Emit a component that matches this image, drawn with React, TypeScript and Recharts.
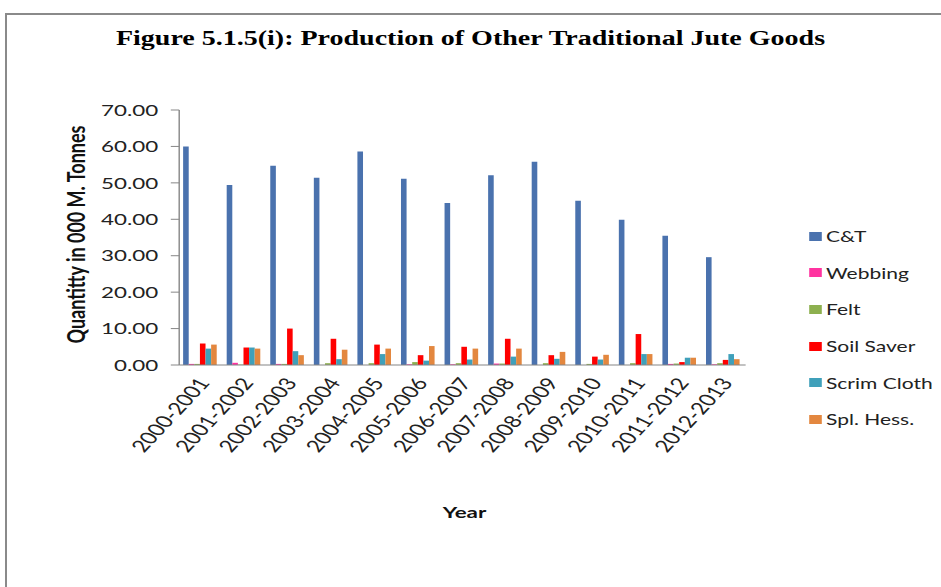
import { BarChart, Bar, XAxis, YAxis, Legend, Label } from "recharts";

const years: string[] = [
  "2000-2001", "2001-2002", "2002-2003", "2003-2004", "2004-2005", "2005-2006", "2006-2007",
  "2007-2008", "2008-2009", "2009-2010", "2010-2011", "2011-2012", "2012-2013",
];

// Quantity in '000 M. tonnes
const cAndT: number[] = [60.0, 49.4, 54.7, 51.4, 58.6, 51.1, 44.5, 52.1, 55.8, 45.1, 39.9, 35.5, 29.6];
const webbing: number[] = [0.3, 0.6, 0.3, 0.0, 0.0, 0.2, 0.2, 0.4, 0.0, 0.0, 0.0, 0.3, 0.2];
const felt: number[] = [0.3, 0.1, 0.3, 0.5, 0.5, 0.8, 0.5, 0.4, 0.5, 0.3, 0.5, 0.4, 0.5];
const soilSaver: number[] = [5.9, 4.8, 10.0, 7.2, 5.6, 2.7, 5.0, 7.2, 2.7, 2.3, 8.5, 0.8, 1.4];
const scrimCloth: number[] = [4.5, 4.8, 3.8, 1.6, 3.0, 1.2, 1.5, 2.3, 1.7, 1.5, 3.0, 2.0, 3.0];
const splHess: number[] = [5.6, 4.5, 2.7, 4.2, 4.5, 5.2, 4.5, 4.5, 3.6, 2.8, 3.0, 2.0, 1.6];

const yTicks: number[] = [0, 10, 20, 30, 40, 50, 60, 70];

const series = [
  { key: "ct", name: "C&T", color: "#4A72AE" },
  { key: "webbing", name: "Webbing", color: "#FF33A0" },
  { key: "felt", name: "Felt", color: "#8DB04F" },
  { key: "soil", name: "Soil Saver", color: "#FF0000" },
  { key: "scrim", name: "Scrim Cloth", color: "#3FA0BA" },
  { key: "hess", name: "Spl. Hess.", color: "#E3873F" },
];

const data = years.map((year, i) => ({
  year,
  ct: cAndT[i],
  webbing: webbing[i],
  felt: felt[i],
  soil: soilSaver[i],
  scrim: scrimCloth[i],
  hess: splHess[i],
}));

// the figure is laid out narrow and then widened to the page
const STRETCH = 1.4;
const W = 941 / STRETCH;
const H = 587;
const SANS = "Lato, 'Open Sans', sans-serif";
const AXIS = "#868686";
const FRAME = "#8a8a8a";

const YearTick = ({ x, y, payload }: any) => (
  <g transform={`translate(${x},${y})`}>
    <text
      x={7}
      y={18}
      textAnchor="end"
      transform="rotate(-56 7 18)"
      style={{ fontFamily: SANS, fontSize: 17, fill: "#222" }}
    >
      {payload.value}
    </text>
  </g>
);

const QuantityLabel = ({ viewBox }: any) => {
  const cx = viewBox.x + 16;
  const cy = viewBox.y + viewBox.height / 2 - 3;
  return (
    <text
      x={cx}
      y={cy}
      transform={`rotate(-90 ${cx} ${cy})`}
      textAnchor="middle"
      dominantBaseline="central"
      style={{ fontFamily: SANS, fontWeight: 700, fontSize: 18, fill: "#111" }}
    >
      Quantitty in 000 M. Tonnes
    </text>
  );
};

const YearLabel = ({ viewBox }: any) => (
  <text
    x={viewBox.x + viewBox.width / 2 + 1.5}
    y={viewBox.y + 147}
    textAnchor="middle"
    dominantBaseline="central"
    style={{ fontFamily: SANS, fontWeight: 700, fontSize: 16, fill: "#111" }}
  >
    Year
  </text>
);

// legend keeps the series order instead of sorting by name
const LegendList = () => (
  <div>
    {series.map((s) => (
      <div key={s.key} style={{ display: "flex", alignItems: "center", height: 36.6 }}>
        <span style={{ width: 9, height: 9, background: s.color, marginRight: 3, flex: "none" }} />
        <span style={{ fontFamily: SANS, fontSize: 15, color: "#222", whiteSpace: "nowrap" }}>{s.name}</span>
      </div>
    ))}
  </div>
);

export default function App() {
  return (
    <div style={{ position: "fixed", left: 0, top: 0, width: 941, height: H, overflow: "hidden", background: "#fff" }}>
      <div
        style={{
          position: "absolute",
          left: 0,
          top: 0,
          width: W,
          height: H,
          transform: `scaleX(${STRETCH})`,
          transformOrigin: "0 0",
        }}
      >
        <div
          style={{
            position: "absolute",
            top: 26,
            left: 0,
            width: W,
            textAlign: "center",
            fontFamily: "'Liberation Serif', 'Times New Roman', serif",
            fontWeight: 700,
            fontSize: 20,
            lineHeight: "24px",
            color: "#000",
            zIndex: 1,
          }}
        >
          Figure 5.1.5(i): Production of Other Traditional Jute Goods
        </div>
        <BarChart
          width={W}
          height={H}
          data={data}
          margin={{ top: 110, right: W - 532.6, bottom: 62, left: 38 }}
          barCategoryGap="9%"
          barGap={0}
        >
          <XAxis
            dataKey="year"
            height={160}
            interval={0}
            tickLine={false}
            tickSize={0}
            tickMargin={0}
            axisLine={{ stroke: AXIS }}
            tick={<YearTick />}
          >
            <Label content={<YearLabel />} />
          </XAxis>
          <YAxis
            width={90}
            domain={[0, 70]}
            ticks={yTicks}
            interval={0}
            tickFormatter={(v: number) => v.toFixed(2)}
            tickSize={6}
            tickMargin={9}
            tickLine={{ stroke: AXIS }}
            axisLine={{ stroke: AXIS }}
            tick={{ fontFamily: SANS, fontSize: 16, fill: "#222" }}
          >
            <Label content={<QuantityLabel />} />
          </YAxis>
          <Legend
            layout="vertical"
            align="center"
            verticalAlign="middle"
            content={<LegendList />}
            wrapperStyle={{ left: 578, top: 218, width: 110 }}
          />
          {series.map((s) => (
            <Bar key={s.key} dataKey={s.key} name={s.name} fill={s.color} isAnimationActive={false} />
          ))}
        </BarChart>
      </div>
      {/* page frame: left and top rules */}
      <div style={{ position: "absolute", left: 5, top: 13, width: 2, height: H, background: FRAME, zIndex: 2 }} />
      <div style={{ position: "absolute", left: 5, top: 13, width: 941, height: 2, background: FRAME, zIndex: 2 }} />
    </div>
  );
}
